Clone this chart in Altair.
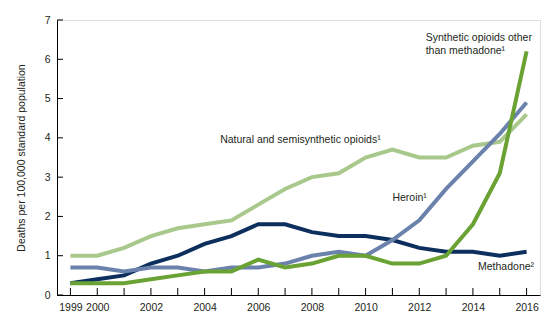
import altair as alt
import pandas as pd

years = list(range(1999, 2017))
natural = [1.0, 1.0, 1.2, 1.5, 1.7, 1.8, 1.9, 2.3, 2.7, 3.0, 3.1, 3.5, 3.7, 3.5, 3.5, 3.8, 3.9, 4.6]
heroin = [0.7, 0.7, 0.6, 0.7, 0.7, 0.6, 0.7, 0.7, 0.8, 1.0, 1.1, 1.0, 1.4, 1.9, 2.7, 3.4, 4.1, 4.9]
synthetic = [0.3, 0.3, 0.3, 0.4, 0.5, 0.6, 0.6, 0.9, 0.7, 0.8, 1.0, 1.0, 0.8, 0.8, 1.0, 1.8, 3.1, 6.2]
methadone = [0.3, 0.4, 0.5, 0.8, 1.0, 1.3, 1.5, 1.8, 1.8, 1.6, 1.5, 1.5, 1.4, 1.2, 1.1, 1.1, 1.0, 1.1]

series_names = ["Natural", "Methadone", "Heroin", "Synthetic"]
series_colors = ["#a9c98c", "#0c2f5e", "#6b82ad", "#6aa233"]

x_tick_years = years
x_label_years = [1999, 2000, 2002, 2004, 2006, 2008, 2010, 2012, 2014, 2016]
y_ticks = [0, 1, 2, 3, 4, 5, 6, 7]

label_texts = ["Natural and semisynthetic opioids\u00b9", "Heroin\u00b9", "Methadone\u00b2",
               "Synthetic opioids other", "than methadone\u00b9"]
label_x = [2004.58, 2011.0, 2014.19, 2012.24, 2012.24]
label_y = [3.95, 2.47, 0.71, 6.54, 6.21]

rows = []
for name, vals in zip(series_names, [natural, methadone, heroin, synthetic]):
    for yr, v in zip(years, vals):
        rows.append({"year": yr, "value": v, "series": name})
df = pd.DataFrame(rows)

FONT = "Liberation Sans"
TXT = "#231f20"
FS = 10.5

xscale = alt.Scale(domain=[1998.5, 2016.5], nice=False, zero=False)
yscale = alt.Scale(domain=[0, 7], nice=False)

xaxis = alt.Axis(values=x_label_years, format="d", title=None, grid=False,
                 ticks=False, labelPadding=7, domainColor="#000000",
                 labelColor=TXT, labelFont=FONT, labelFontSize=FS,
                 labelOverlap=False)
yaxis = alt.Axis(values=y_ticks, format="d", title="Deaths per 100,000 standard population",
                 grid=False, ticks=False, labelPadding=7, domainColor="#000000",
                 labelColor=TXT, labelFont=FONT, labelFontSize=FS,
                 labelOverlap=False,
                 titleFont=FONT, titleFontSize=FS, titleFontWeight="normal",
                 titleColor=TXT, titlePadding=18)

lines = alt.Chart(df).mark_line(strokeWidth=4, strokeJoin="miter").encode(
    x=alt.X("year:Q", scale=xscale, axis=xaxis),
    y=alt.Y("value:Q", scale=yscale, axis=yaxis),
    color=alt.Color("series:N", scale=alt.Scale(domain=series_names, range=series_colors),
                    legend=None),
    order=alt.Order("year:Q"),
)

xt = alt.Chart(pd.DataFrame({"year": x_tick_years})).mark_rule(color="#000000", strokeWidth=1).encode(
    x=alt.X("year:Q", scale=xscale, axis=xaxis),
    y=alt.value(268),
    y2=alt.value(275),
)

yt = alt.Chart(pd.DataFrame({"value": y_ticks})).mark_rule(color="#000000", strokeWidth=1).encode(
    y=alt.Y("value:Q", scale=yscale, axis=yaxis),
    x=alt.value(0),
    x2=alt.value(6),
)

labels = alt.Chart(pd.DataFrame({"t": label_texts, "year": label_x, "value": label_y})).mark_text(
    align="left", baseline="middle", font=FONT, fontSize=FS, color=TXT
).encode(
    x=alt.X("year:Q", scale=xscale, axis=xaxis),
    y=alt.Y("value:Q", scale=yscale, axis=yaxis),
    text="t:N",
)

chart = alt.layer(lines, xt, yt, labels).properties(
    width=483, height=275,
    autosize=alt.AutoSizeParams(type="none"),
    padding={"left": 49, "top": 12, "right": 12, "bottom": 26},
).configure_view(stroke=None).configure(background="#ffffff")

chart.save("out.html", embed_options={"renderer": "svg", "actions": False})
